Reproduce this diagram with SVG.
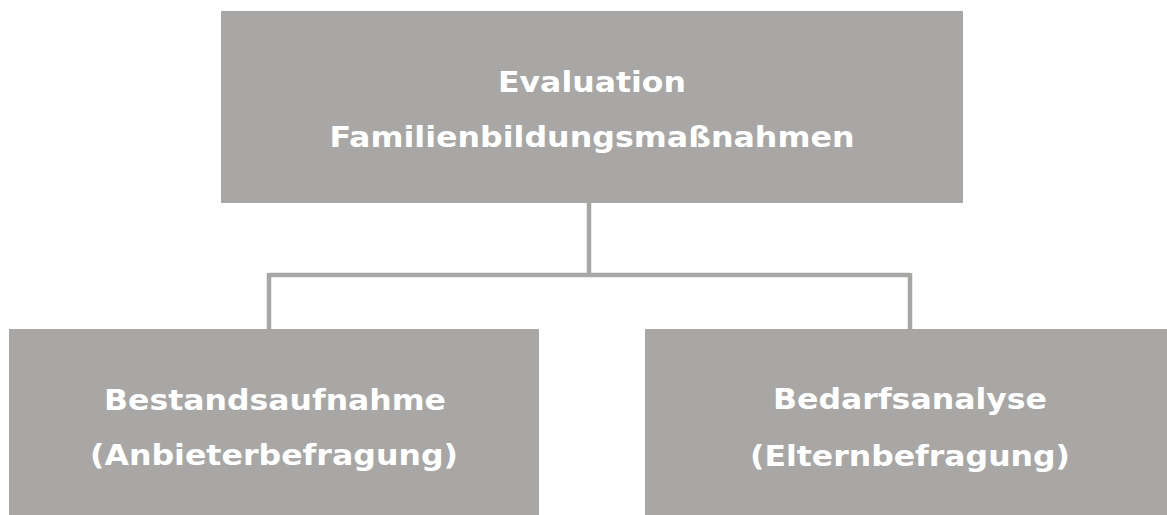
<svg xmlns="http://www.w3.org/2000/svg" width="1167" height="515" viewBox="0 0 1167 515">
<style>
.box{fill:#a8a7a5}
.t{fill:#ffffff;font-family:"DejaVu Sans","Liberation Sans",sans-serif;font-weight:bold;font-size:28px;text-anchor:middle}
.tc{font-family:"DejaVu Sans Condensed","DejaVu Sans",sans-serif;font-size:29px}
.c{fill:none;stroke:#a8a7a5;stroke-width:4.5}
</style>
<rect width="1167" height="515" fill="#ffffff"/>
<g id="connectors">
<path class="c" d="M589 203 V275 M269 275 H910 M269 273 V330 M910 273 V330"/>
</g>
<g id="top">
<rect class="box" x="221" y="11" width="742" height="192"/>
<text class="t tc" x="592" y="92" textLength="188" lengthAdjust="spacingAndGlyphs">Evaluation</text>
<text class="t tc" x="592" y="147" textLength="525" lengthAdjust="spacingAndGlyphs">Familienbildungsmaßnahmen</text>
</g>
<g id="left">
<rect class="box" x="9" y="329" width="530" height="186"/>
<text class="t" x="275" y="410" textLength="342" lengthAdjust="spacingAndGlyphs">Bestandsaufnahme</text>
<text class="t" x="274" y="465" textLength="368" lengthAdjust="spacingAndGlyphs">(Anbieterbefragung)</text>
</g>
<g id="right">
<rect class="box" x="645" y="329" width="522" height="186"/>
<text class="t" x="910" y="409" textLength="274" lengthAdjust="spacingAndGlyphs">Bedarfsanalyse</text>
<text class="t" x="910" y="466" textLength="320" lengthAdjust="spacingAndGlyphs">(Elternbefragung)</text>
</g>
</svg>
